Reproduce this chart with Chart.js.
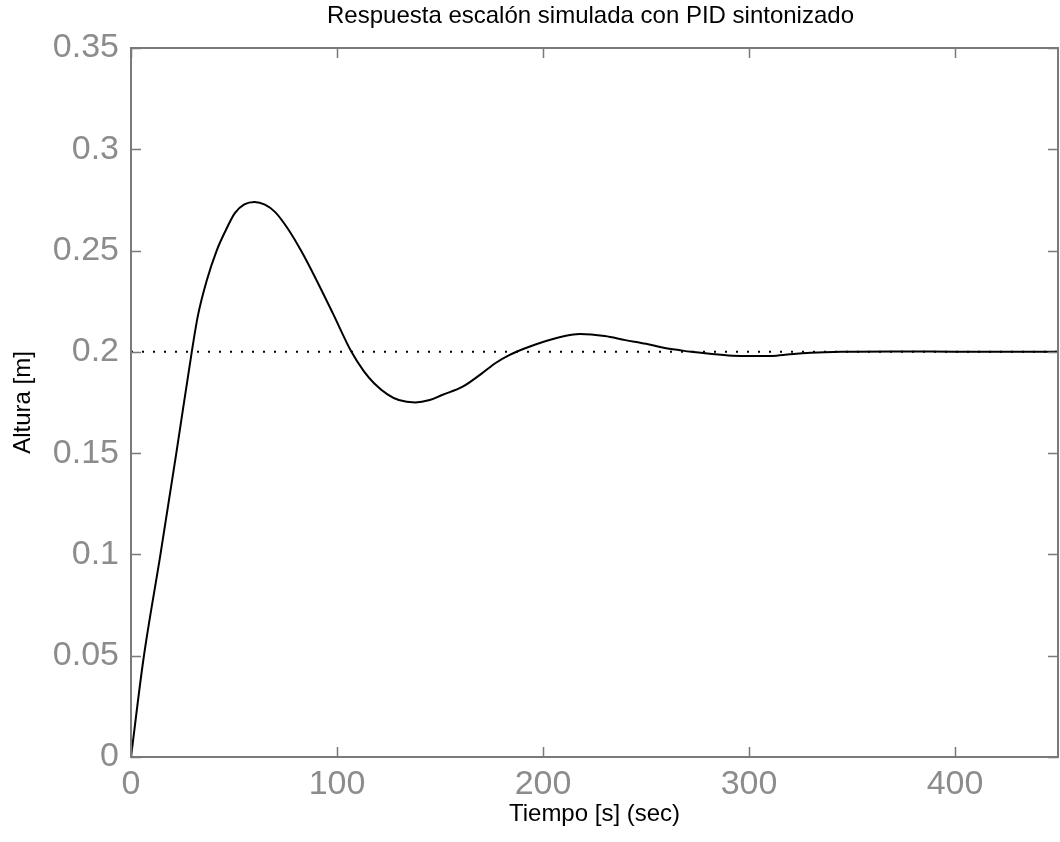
<!DOCTYPE html>
<html lang="es">
<head>
<meta charset="utf-8">
<title>Respuesta escalón simulada con PID sintonizado</title>
<script src="https://cdn.jsdelivr.net/npm/chart.js@4.4.1/dist/chart.umd.min.js"></script>
<style>
  html, body { margin: 0; padding: 0; background: #fff; }
  canvas { display: block; }
</style>
</head>
<body>
<canvas id="grafico" width="1060" height="842"></canvas>
<script>
// respuesta al escalón (altura del tanque) con el PID ya sintonizado
const tiempo = [0, 6, 14.3, 22, 29.5, 32.5, 36.7, 41.6, 46, 50.4, 55, 60, 65, 70, 76, 82.8,
    90, 98, 107, 113, 118, 124.5, 130, 138, 145, 151, 161, 170.5, 177, 183.6, 193, 208, 218, 230, 240, 250,
    258, 266, 272, 282, 292, 300, 311, 320, 330, 345, 370, 400, 450]
const altura = [0, 0.048, 0.1, 0.15, 0.2, 0.218, 0.235, 0.25, 0.26, 0.2685, 0.2728, 0.274, 0.2727, 0.269, 0.261, 0.2495,
    0.2355, 0.219, 0.2, 0.1905, 0.1845, 0.179, 0.1762, 0.175, 0.1762, 0.1787, 0.1828, 0.1895, 0.1945, 0.1984, 0.2024, 0.2072, 0.2088, 0.2078, 0.2058, 0.204,
    0.2022, 0.2009, 0.2, 0.1989, 0.1981, 0.1979, 0.198, 0.1988, 0.1995, 0.2, 0.2002, 0.2001, 0.2]

// consigna
const refTiempo = [0, 450]
const refAltura = [0.2, 0.2]

const ticksX = [0, 100, 200, 300, 400]
const etiquetasX = ['0', '100', '200', '300', '400']
const ticksY = [0, 0.05, 0.1, 0.15, 0.2, 0.25, 0.3, 0.35]
const etiquetasY = ['0', '0.05', '0.1', '0.15', '0.2', '0.25', '0.3', '0.35']

const titulo = 'Respuesta escalón simulada con PID sintonizado'

const gris = '#7a7a7a'
const grisTexto = '#8c8c8c'
const fuente = "'Liberation Sans', Arial, sans-serif"

// marco con marcas hacia dentro en los cuatro lados + título
const marco = {
    id: 'marco',
    afterDatasetsDraw(chart) {
        const { ctx, chartArea: a, scales: { x, y } } = chart
        ctx.save()
        ctx.strokeStyle = gris
        ctx.lineWidth = 2
        ctx.strokeRect(a.left, a.top, a.right - a.left, a.bottom - a.top)

        ctx.lineWidth = 1.5
        ctx.beginPath()
        ticksX.forEach(v => {
            const px = Math.round(x.getPixelForValue(v)) + 0.5
            ctx.moveTo(px, a.bottom); ctx.lineTo(px, a.bottom - 10)
            ctx.moveTo(px, a.top); ctx.lineTo(px, a.top + 10)
        })
        ticksY.forEach(v => {
            const py = Math.round(y.getPixelForValue(v)) + 0.5
            ctx.moveTo(a.left, py); ctx.lineTo(a.left + 10, py)
            ctx.moveTo(a.right, py); ctx.lineTo(a.right - 10, py)
        })
        ctx.stroke()
        ctx.restore()
    },
    afterDraw(chart) {
        const { ctx, chartArea: a } = chart
        ctx.save()
        ctx.fillStyle = '#000'
        ctx.font = `24px ${fuente}`
        ctx.textAlign = 'center'
        ctx.textBaseline = 'middle'
        ctx.fillText(titulo, (a.left + a.right) / 2 - 4, 16)
        ctx.restore()
    }
}

const grafico = new Chart(document.getElementById('grafico'), {
    type: 'line',
    data: {
        datasets: [
            {
                label: 'Altura',
                data: tiempo.map((t, i) => ({ x: t, y: altura[i] })),
                borderColor: '#000',
                borderWidth: 2,
                pointRadius: 0,
                cubicInterpolationMode: 'monotone'
            },
            {
                label: 'Referencia',
                data: refTiempo.map((t, i) => ({ x: t, y: refAltura[i] })),
                borderColor: '#000',
                borderWidth: 2,
                borderDash: [2, 9],
                pointRadius: 0
            }
        ]
    },
    options: {
        responsive: false,
        animation: false,
        devicePixelRatio: 1,
        layout: { padding: { top: 48, right: 2, left: 0, bottom: 0 } },
        plugins: {
            legend: { display: false },
            tooltip: { enabled: false }
        },
        scales: {
            x: {
                type: 'linear',
                min: 0,
                max: 450,
                afterBuildTicks: s => { s.ticks = ticksX.map(v => ({ value: v })) },
                afterFit: s => { s.height = 85 },
                grid: { display: false, drawTicks: false },
                border: { display: false },
                ticks: {
                    padding: 7,
                    color: grisTexto,
                    font: { family: fuente, size: 34 },
                    maxRotation: 0,
                    callback: (v, i) => etiquetasX[i]
                },
                title: {
                    display: true,
                    text: 'Tiempo [s] (sec)',
                    color: '#000',
                    font: { family: fuente, size: 24 },
                    padding: { top: 0, bottom: 13.6 }
                }
            },
            y: {
                type: 'linear',
                min: 0,
                max: 0.35,
                afterBuildTicks: s => { s.ticks = ticksY.map(v => ({ value: v })) },
                afterFit: s => { s.width = 131 },
                grid: { display: false, drawTicks: false },
                border: { display: false },
                ticks: {
                    padding: 12,
                    color: grisTexto,
                    font: { family: fuente, size: 34 },
                    callback: (v, i) => etiquetasY[i]
                },
                title: {
                    display: true,
                    text: 'Altura [m]',
                    color: '#000',
                    font: { family: fuente, size: 24 },
                    padding: { top: 8.6, bottom: 0 }
                }
            }
        }
    },
    plugins: [marco]
})
</script>
</body>
</html>
